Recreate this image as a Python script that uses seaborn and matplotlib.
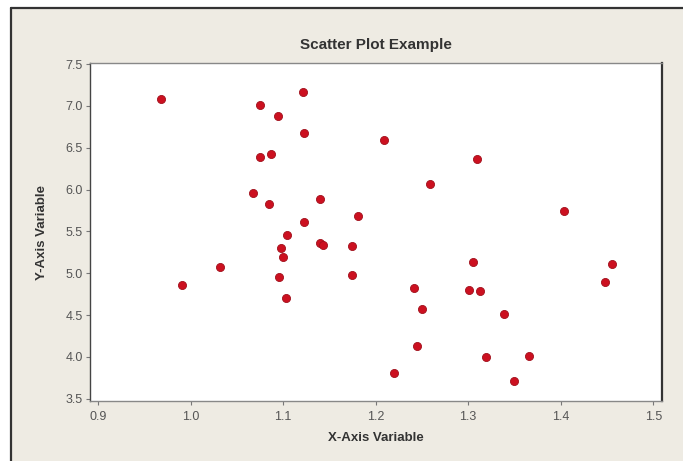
import numpy as np
import pandas as pd
import seaborn as sns
import matplotlib
matplotlib.use('Agg')
import matplotlib.pyplot as plt
from matplotlib.lines import Line2D
from matplotlib.patches import Rectangle

# values
x_values = [0.968, 0.991, 1.032, 1.067, 1.075, 1.075, 1.087, 1.085, 1.095, 1.098,
            1.100, 1.096, 1.103, 1.104, 1.121, 1.123, 1.123, 1.140, 1.140, 1.143,
            1.174, 1.174, 1.181, 1.209, 1.220, 1.241, 1.250, 1.245, 1.259, 1.305,
            1.301, 1.313, 1.309, 1.319, 1.339, 1.349, 1.366, 1.404, 1.448, 1.455]
y_values = [7.08, 4.86, 5.08, 5.96, 7.01, 6.39, 6.42, 5.83, 6.88, 5.30,
            5.19, 4.95, 4.70, 5.46, 7.16, 6.68, 5.61, 5.89, 5.36, 5.34,
            5.32, 4.98, 5.68, 6.59, 3.81, 4.82, 4.57, 4.13, 6.07, 5.14,
            4.80, 4.79, 6.37, 4.00, 4.51, 3.71, 4.01, 5.74, 4.89, 5.11]
x_ticks = [0.9, 1.0, 1.1, 1.2, 1.3, 1.4, 1.5]
y_ticks = [3.5, 4.0, 4.5, 5.0, 5.5, 6.0, 6.5, 7.0, 7.5]

df = pd.DataFrame({'X-Axis Variable': x_values, 'Y-Axis Variable': y_values})

sns.set_style('ticks')
plt.rcParams['font.family'] = ['Liberation Sans', 'DejaVu Sans']

fig = plt.figure(figsize=(6.83, 4.61), dpi=100)
fig.patch.set_facecolor('white')
# beige panel with a dark line on top and left, like the source screenshot
fig.patches.append(Rectangle((11 / 683, 0), 1, 1 - 8 / 461, transform=fig.transFigure,
                             facecolor='#eeebe3', edgecolor='none', zorder=-2))
fig.lines.append(Line2D([11 / 683, 1], [1 - 8 / 461, 1 - 8 / 461], transform=fig.transFigure,
                        color='#333333', linewidth=1.6))
fig.lines.append(Line2D([11 / 683, 11 / 683], [0, 1 - 8 / 461], transform=fig.transFigure,
                        color='#333333', linewidth=1.6))

ax = fig.add_axes([90 / 683, 1 - 401 / 461, 572 / 683, 338 / 461])
ax.set_facecolor('white')
sns.scatterplot(data=df, x='X-Axis Variable', y='Y-Axis Variable', ax=ax,
                color='#cc1020', edgecolor='#a0101c', linewidth=0.6, s=34, zorder=3)

ax.set_xlim(0.8914, 1.5094)
ax.set_ylim(3.474, 7.512)
ax.set_xticks(x_ticks)
ax.set_yticks(y_ticks)
ax.set_xticklabels([f'{t:.1f}' for t in x_ticks])
ax.set_yticklabels([f'{t:.1f}' for t in y_ticks])
ax.tick_params(axis='both', length=3, width=0.8, color='#777777', labelcolor='#555555',
               labelsize=9, pad=2)
ax.tick_params(axis='x', pad=4)

for side in ['left', 'bottom', 'top']:
    ax.spines[side].set_color('#888888')
    ax.spines[side].set_linewidth(1.0)
ax.spines['right'].set_color('#333333')
ax.spines['right'].set_linewidth(1.6)
ax.spines['left'].set_color('#444444')

ax.set_xlabel('X-Axis Variable', fontsize=9.5, fontweight='bold', color='#333333', labelpad=7)
ax.set_ylabel('Y-Axis Variable', fontsize=9.5, fontweight='bold', color='#333333', labelpad=13)
ax.set_title('Scatter Plot Example', fontsize=11, fontweight='bold', color='#333333', pad=10)

fig.savefig('out.png', dpi=100, facecolor=fig.get_facecolor())
